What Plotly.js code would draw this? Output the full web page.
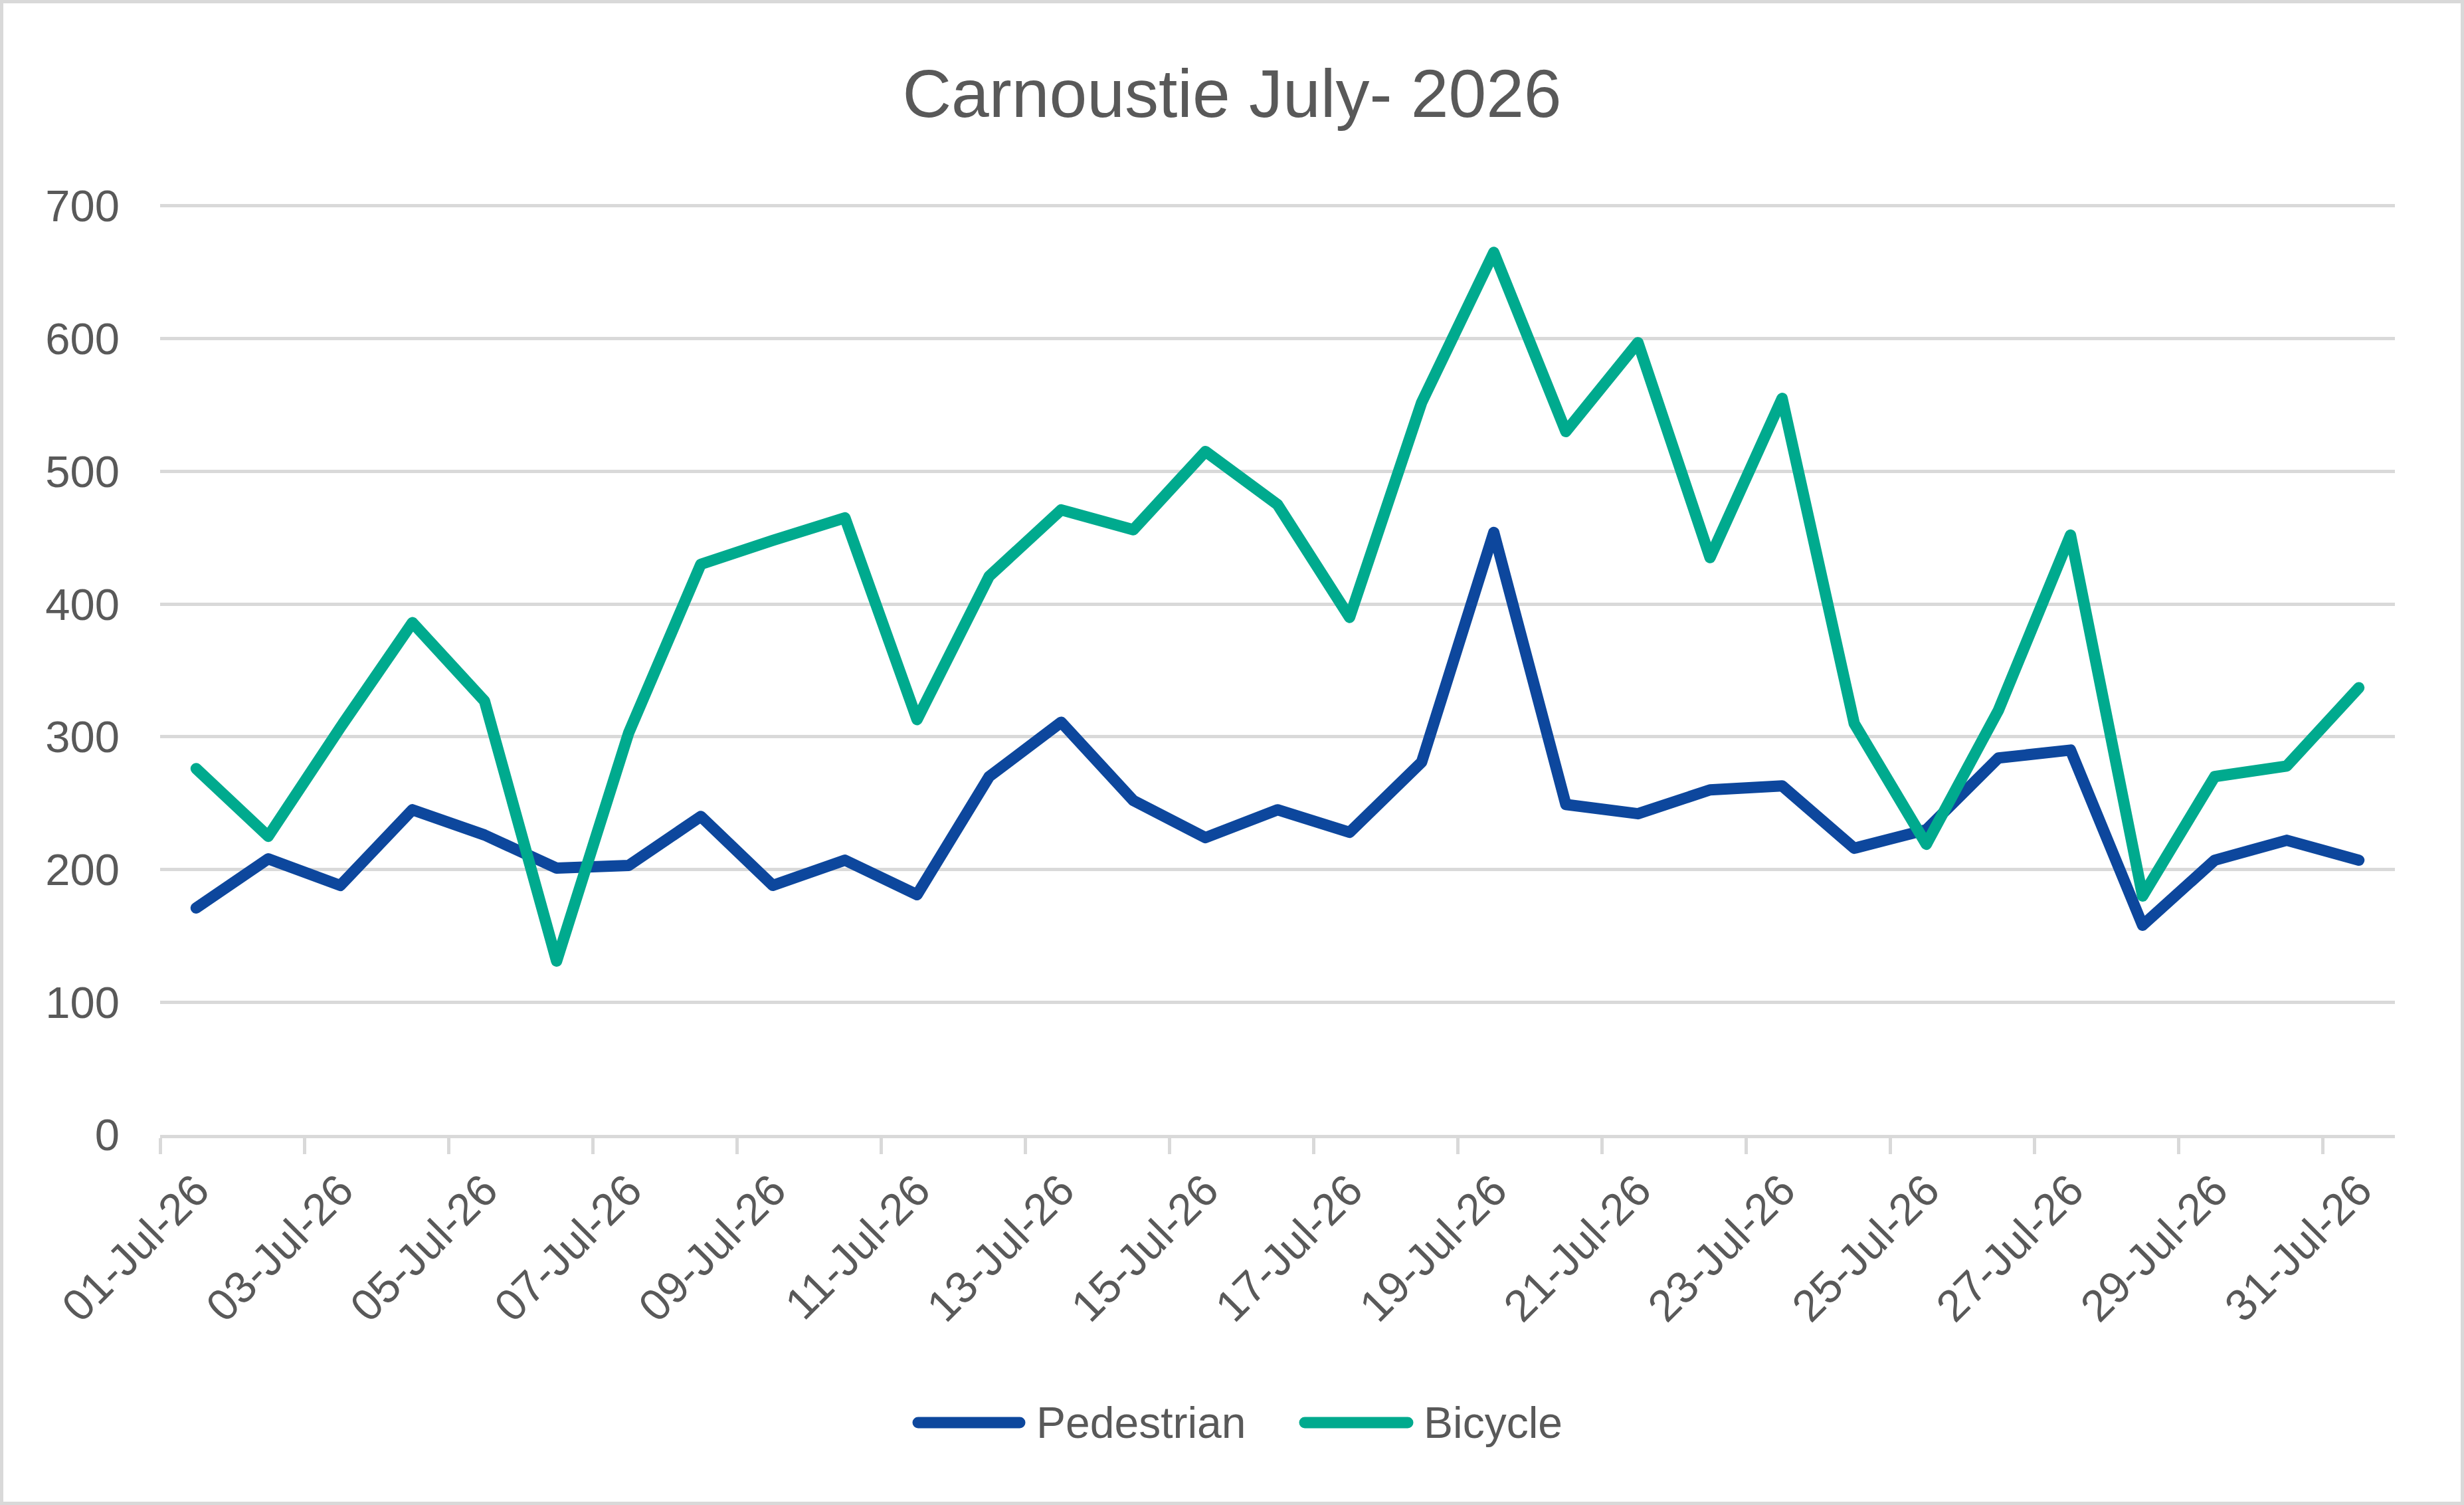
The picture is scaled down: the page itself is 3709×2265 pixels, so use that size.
<!DOCTYPE html>
<html>
<head>
<meta charset="utf-8">
<script src="https://cdn.plot.ly/plotly-3.0.1.min.js"></script>
<style>
  html, body { margin: 0; padding: 0; background: #fff; }
  #wrap { position: relative; width: 3709px; height: 2265px; }
  #plot { width: 3709px; height: 2265px; }
  #frame { position: absolute; left: 0; top: 0; width: 3709px; height: 2265px;
           box-sizing: border-box; border: 5px solid #d9d9d9; pointer-events: none; }
  /* Excel style round joins on the series lines and legend swatches */
  #plot .scatterlayer path.js-line { stroke-linejoin: round; stroke-linecap: round; }
  #plot .shapelayer path { stroke-linecap: round; }
</style>
</head>
<body>
<div id="wrap">
  <div id="plot"></div>
  <div id="frame"></div>
</div>
<script>
// days of July 2026
const dates = [
    '2026-07-01', '2026-07-02', '2026-07-03', '2026-07-04', '2026-07-05', '2026-07-06',
    '2026-07-07', '2026-07-08', '2026-07-09', '2026-07-10', '2026-07-11', '2026-07-12',
    '2026-07-13', '2026-07-14', '2026-07-15', '2026-07-16', '2026-07-17', '2026-07-18',
    '2026-07-19', '2026-07-20', '2026-07-21', '2026-07-22', '2026-07-23', '2026-07-24',
    '2026-07-25', '2026-07-26', '2026-07-27', '2026-07-28', '2026-07-29', '2026-07-30',
    '2026-07-31'
]

const pedestrian = [171, 208, 188, 245, 226, 201, 203, 240, 188, 207, 181, 270, 311, 252, 224,
    245, 228, 281, 454, 249, 242, 260, 263, 216, 230, 284, 290, 158, 207, 222, 207]

const bicycle = [276, 225, 307, 386, 327, 131, 303, 430, 448, 465, 313, 421, 471, 456, 515,
    475, 390, 552, 665, 530, 597, 435, 555, 310, 219, 320, 452, 180, 270, 278, 337]

const seriesNames = ['Pedestrian', 'Bicycle']
const chartTitle = 'Carnoustie July- 2026'

const colors = ['#0d479d', '#00aa8e']
const grey = '#595959'
const gridGrey = '#d9d9d9'
const font = 'Liberation Sans, Arial, sans-serif'

const W = 3709, H = 2265
// range runs a touch past 700 so the top gridline is not clipped at the edge
const yMax = 700, yTop = 702
const plotLeft = 241, plotRight = 3605, plotBottom = 1708
const plotTop = Math.round(plotBottom - (plotBottom - 310) * yTop / yMax)
const DAY = 86400000

// pixel -> paper helpers (for the hand drawn legend)
function paperX(px) { return (px - plotLeft) / (plotRight - plotLeft) }
function paperY(py) { return (plotBottom - py) / (plotBottom - plotTop) }

const traces = [pedestrian, bicycle].map(function (vals, i) {
    return {
        x: dates,
        y: vals,
        type: 'scatter',
        mode: 'lines',
        name: seriesNames[i],
        line: { color: colors[i], width: 17 },
        hoverinfo: 'skip'
    }
})

// legend: line swatch + label, centred under the chart
const legendY = 2141
const legendItems = [
    { x0: 1382, x1: 1535, tx: 1558 },
    { x0: 1964, x1: 2119, tx: 2141 }
]
const shapes = []
const annotations = []
legendItems.forEach(function (item, i) {
    shapes.push({
        type: 'line', xref: 'paper', yref: 'paper',
        x0: paperX(item.x0), x1: paperX(item.x1),
        y0: paperY(legendY), y1: paperY(legendY),
        line: { color: colors[i], width: 17 }
    })
    annotations.push({
        xref: 'paper', yref: 'paper',
        x: paperX(item.tx), y: paperY(legendY),
        xanchor: 'left', yanchor: 'middle',
        text: seriesNames[i], showarrow: false,
        font: { family: font, size: 66, color: grey }
    })
})

const layout = {
    width: W,
    height: H,
    margin: { l: plotLeft, r: W - plotRight, t: plotTop, b: H - plotBottom, pad: 0 },
    paper_bgcolor: '#ffffff',
    plot_bgcolor: '#ffffff',
    showlegend: false,
    title: {
        text: chartTitle,
        x: 0.5, xanchor: 'center',
        y: 1 - 140 / H, yanchor: 'middle', yref: 'container',
        font: { family: font, size: 102, color: grey }
    },
    xaxis: {
        type: 'date',
        range: ['2026-06-30 12:00', '2026-07-31 12:00'],
        tickmode: 'linear',
        tick0: '2026-07-01',
        dtick: 2 * DAY,
        tickformat: '%d-%b-%y',
        tickangle: -45,
        ticks: '',
        ticklabelstandoff: 12,
        minor: {
            ticks: 'outside', tick0: '2026-06-30 12:00', dtick: 2 * DAY,
            ticklen: 24, tickwidth: 5, tickcolor: gridGrey, showgrid: false
        },
        showgrid: false,
        showline: true, linecolor: gridGrey, linewidth: 5,
        tickfont: { family: font, size: 67, color: grey },
        fixedrange: true
    },
    yaxis: {
        range: [0, yTop],
        tickmode: 'linear', tick0: 0, dtick: 100,
        showgrid: true, gridcolor: gridGrey, gridwidth: 5,
        zeroline: false, showline: false, ticks: '',
        ticklabelstandoff: 60,
        tickfont: { family: font, size: 67, color: grey },
        fixedrange: true
    },
    shapes: shapes,
    annotations: annotations
}

Plotly.newPlot('plot', traces, layout, { staticPlot: true, displayModeBar: false })
</script>
</body>
</html>
